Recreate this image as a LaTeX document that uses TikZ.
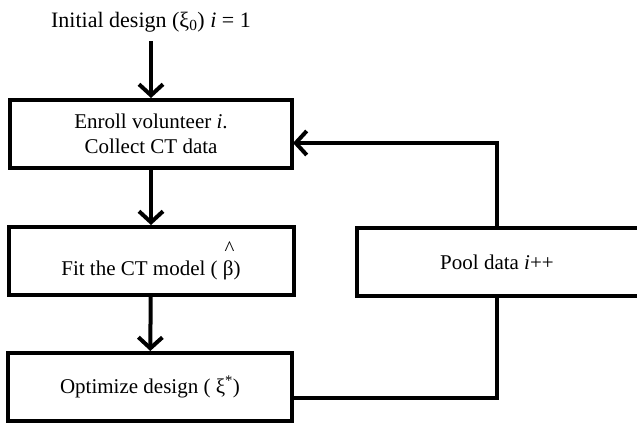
\documentclass[tikz,border=0pt]{standalone}
\usepackage{fontspec}
\setmainfont{Liberation Serif}
\usetikzlibrary{arrows.meta}
\newcommand{\hatover}[1]{\rlap{\raisebox{0.95em}{\kern0.08em\textasciicircum}}#1}
\tikzset{
  box/.style={draw,line width=4pt,minimum height=68pt,inner sep=0pt,
    align=center,font=\fontsize{21}{25}\selectfont},
  title/.style={inner sep=7pt,font=\fontsize{22}{25}\selectfont}
}

\begin{document}
\begin{tikzpicture}[x=1pt,y=-1pt,line width=4pt,
  >={Straight Barb[length=11pt,width=24pt]}]
\useasboundingbox (0,0) rectangle (637,423);
\node[title] (init) at (151,22) {Initial design (ξ\textsubscript{0}) \textit{i} = 1};
\node[box,minimum width=282pt] (enroll) at (151,134) {Enroll volunteer \textit{i}.\\Collect CT data};
\node[box,minimum width=285pt] (fit) at (151,261) {Fit the CT model ( \hatover{β})};
\node[box,minimum width=284pt] (optim) at (150,387) {Optimize design ( ξ\textsuperscript{*})};
\node[box,minimum width=290pt] (pool) at (502,262) {\kern-10pt Pool data \textit{i}++};
% main flow
\draw[->] (init) -- (enroll);
\draw[->] (enroll) -- (fit);
\draw[->] (fit) -- (optim);
% loop back
\coordinate (out) at (292,398);
\coordinate (back) at (293,143);
\draw (out) -| ([xshift=-5pt]pool.south);
\draw[->] ([xshift=-5pt]pool.north) |- (back);
\end{tikzpicture}
\end{document}
